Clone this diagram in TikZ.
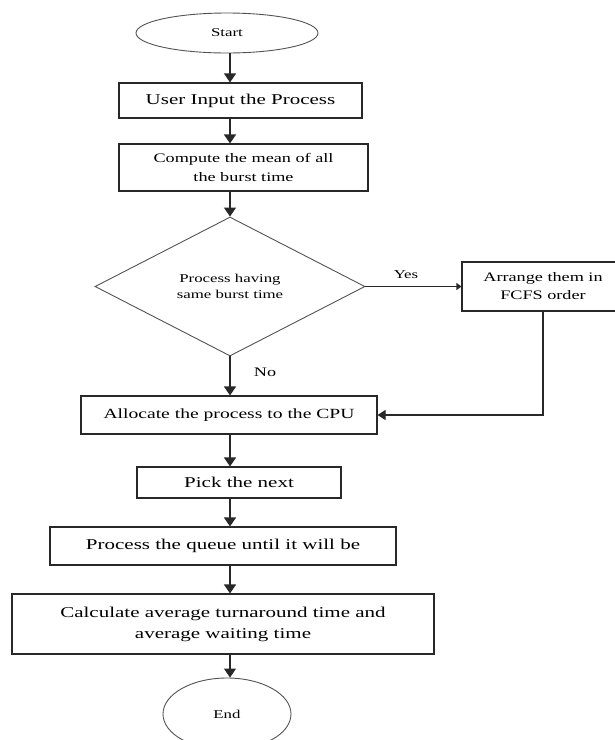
\documentclass[tikz,border=0pt]{standalone}
\usepackage{fontspec}
\setmainfont{Liberation Serif}[FakeStretch=1.4]
\usepackage{tikz}
\usetikzlibrary{positioning, shapes.geometric, arrows.meta}
\definecolor{lineGray}{RGB}{40, 40, 40}

\begin{document}
\begin{tikzpicture}[
    x=1pt, y=-1pt,
    stepbox/.style={rectangle, draw=lineGray, line width=1.1pt,
                    inner sep=0pt, align=center},
    terminal/.style={ellipse, draw=lineGray!80, line width=0.9pt,
                     inner sep=0pt, font=\fontsize{12}{14}\selectfont},
    decision/.style={diamond, draw=lineGray!80, line width=0.9pt,
                     inner sep=0pt, align=center, font=\fontsize{12}{16}\selectfont},
    arrow/.style={-{Triangle[width=12pt, length=9pt]}, line width=1.1pt, lineGray},
  ]
    \useasboundingbox[fill=white] (0,0) rectangle (614,740);
    \coordinate (col) at (230,0);

    % Terminals
    \node[terminal, minimum width=182pt, minimum height=40pt] (start) at (227,33) {Start};
    \node[terminal, minimum width=128pt, minimum height=72pt] (stop) at (227,714) {End};

    % Main steps
    \node[stepbox, minimum width=243pt, minimum height=35pt, font=\fontsize{15}{20}\selectfont]
         (input) at (240.5,100.5) {User Input the Process};
    \node[stepbox, minimum width=249pt, minimum height=47pt, font=\fontsize{13}{19}\selectfont]
         (mean) at (243.5,167.5) {Compute the mean of all\\the burst time};
    \node[decision, minimum width=270pt, minimum height=139pt]
         (check) at (230,286.5) {Process having\\same burst time};
    \node[stepbox, minimum width=162pt, minimum height=49pt, font=\fontsize{13}{18}\selectfont]
         (fcfs) at (543,286.5) {Arrange them in\\FCFS order};
    \node[stepbox, minimum width=296pt, minimum height=38pt, font=\fontsize{14}{18}\selectfont]
         (alloc) at (229,415) {Allocate the process to the CPU};
    \node[stepbox, minimum width=204pt, minimum height=31pt, font=\fontsize{15}{20}\selectfont]
         (pick) at (239,482.5) {Pick the next};
    \node[stepbox, minimum width=346pt, minimum height=38pt, font=\fontsize{15}{20}\selectfont]
         (queue) at (223,546) {Process the queue until it will be};
    \node[stepbox, minimum width=422pt, minimum height=60pt, font=\fontsize{15}{21}\selectfont]
         (calc) at (223,624) {Calculate average turnaround time and\\average waiting time};

    % Connectors
    \draw[arrow] (col |- start.south) -- (col |- input.north);
    \draw[arrow] (col |- input.south) -- (col |- mean.north);
    \draw[arrow] (col |- mean.south) -- (check.north);
    \draw[arrow] (check.south) -- (col |- alloc.north);
    \draw[arrow, -{Triangle[width=7pt, length=5pt]}] (check.east) -- (fcfs.west);
    \draw[arrow, -{Triangle[width=10pt, length=8pt]}] (fcfs.south) |- (alloc.east);
    \draw[arrow] (col |- alloc.south) -- (col |- pick.north);
    \draw[arrow] (col |- pick.south) -- (col |- queue.north);
    \draw[arrow] (col |- queue.south) -- (col |- calc.north);
    \draw[arrow] (col |- calc.south) -- (col |- stop.north);

    % Branch labels
    \node[font=\fontsize{12}{14}\selectfont] (yes) at (406,275) {Yes};
    \node[font=\fontsize{13}{15}\selectfont] (no) at (265,372) {No};
  \end{tikzpicture}
\end{document}
